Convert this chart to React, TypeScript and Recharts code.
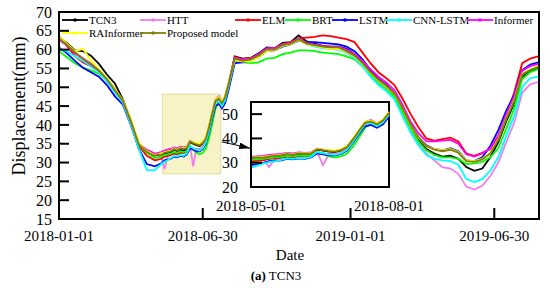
import { LineChart, Line, XAxis, YAxis, ReferenceArea, ReferenceLine } from "recharts";

const FONT = "'Liberation Serif', 'Times New Roman', serif";

// day index counted from 2018-01-01
const DAYS = [
  0, 10, 20, 30, 40, 50, 60, 70, 80, 90, 100, 110,
  120, 124, 128, 132, 136, 140, 144, 148, 152, 156, 160, 164, 168, 172, 176, 180, 184, 188, 192, 196, 200, 204, 208, 212,
  220, 230, 240, 250, 260, 270, 280, 290, 300, 310, 320, 330, 340, 350, 360,
  370, 380, 390, 400, 410, 420, 430, 440, 450, 460, 470, 480, 490, 500, 510, 520, 530, 540, 550, 560, 570, 580, 590, 600,
];

const MAIN_TICKS = [0, 180, 365, 545];
const MAIN_TICK_LABELS = ["2018-01-01", "2018-06-30", "2019-01-01", "2019-06-30"];
const Y_TICKS = [15, 20, 25, 30, 35, 40, 45, 50, 55, 60, 65, 70];
const INSET_TICKS = [120, 212];
const INSET_TICK_LABELS = ["2018-05-01", "2018-08-01"];
const INSET_Y_TICKS = [20, 30, 40, 50];

const TCN3 = [
  63.2, 61.8, 59.8, 59.6, 58.4, 56.2, 53.4, 51.0, 46.8, 41.0, 34.8, 32.8,
  31.4, 31.8, 31.8, 32.4, 32.6, 32.6, 33.4, 33.0, 33.4, 33.2, 33.6, 35.4, 35.0, 34.6, 34.4, 35.0, 36.2, 39.4, 43.0, 46.2, 46.8, 45.6, 47.2, 50.4,
  58.2, 57.6, 57.8, 59.0, 60.6, 60.4, 61.8, 62.0, 63.8, 62.2, 61.6, 61.0, 60.8, 60.8, 60.2,
  58.8, 56.6, 54.0, 51.8, 50.2, 48.0, 44.2, 39.8, 36.0, 33.6, 32.4, 31.6, 31.8, 31.0, 28.8, 27.8, 28.4, 31.4, 35.4, 41.0, 45.8, 52.8, 54.2, 55.0,
];
const HTT = [
  62.5, 61.0, 59.0, 57.8, 56.4, 54.6, 52.2, 49.0, 46.0, 40.6, 34.6, 32.8,
  31.6, 31.6, 31.8, 28.2, 31.6, 32.0, 32.6, 32.4, 32.8, 32.6, 33.0, 34.6, 29.0, 33.6, 33.6, 34.2, 35.8, 39.0, 42.8, 46.4, 47.2, 45.8, 47.0, 50.4,
  57.8, 57.2, 57.6, 58.6, 60.2, 60.2, 61.4, 61.8, 63.0, 61.6, 61.0, 60.6, 60.2, 60.0, 59.4,
  58.0, 56.0, 53.4, 51.2, 49.6, 47.4, 43.2, 38.6, 35.0, 32.4, 30.6, 28.8, 28.4, 27.0, 23.6, 22.8, 23.8, 26.4, 30.0, 35.4, 40.6, 48.6, 50.8, 51.4,
];
const ELM = [
  63.6, 61.0, 58.2, 56.6, 55.6, 54.5, 52.0, 49.2, 46.2, 40.8, 34.4, 31.8,
  30.6, 30.8, 31.0, 31.6, 31.8, 32.0, 32.4, 32.2, 32.6, 32.6, 32.8, 34.2, 33.8, 33.4, 33.0, 33.6, 35.4, 38.8, 42.6, 46.0, 46.6, 45.4, 46.8, 50.0,
  58.0, 57.4, 57.8, 58.6, 60.0, 60.4, 61.4, 62.0, 63.0, 63.2, 63.4, 63.8, 63.6, 63.2, 62.8,
  62.0, 59.2, 56.4, 54.0, 52.4, 50.6, 47.0, 43.0, 39.4, 36.4, 35.8, 36.2, 36.6, 35.6, 32.4, 31.8, 32.6, 33.6, 37.0, 42.6, 48.6, 56.4, 57.6, 58.2,
];
const BRT = [
  59.6, 58.0, 56.4, 55.2, 54.5, 53.6, 51.8, 48.8, 46.0, 40.6, 34.8, 32.6,
  31.2, 31.4, 31.6, 32.0, 32.2, 32.4, 32.8, 32.6, 33.0, 32.8, 33.0, 34.4, 33.6, 32.6, 32.2, 32.6, 33.8, 36.6, 40.4, 44.4, 46.0, 45.0, 46.4, 49.6,
  57.0, 56.6, 56.4, 56.6, 57.6, 57.8, 58.8, 59.2, 59.8, 59.8, 59.6, 59.2, 59.0, 58.8, 58.2,
  57.4, 55.6, 53.2, 51.0, 49.4, 47.4, 43.4, 39.2, 35.6, 33.2, 32.0, 31.4, 31.4, 31.0, 29.6, 29.8, 30.2, 31.4, 33.8, 39.0, 44.4, 52.2, 54.0, 54.8,
];
const LSTM = [
  60.6, 59.0, 57.0, 55.2, 54.0, 52.8, 50.6, 47.6, 45.4, 40.0, 33.6, 29.6,
  29.0, 29.4, 29.8, 30.6, 30.8, 31.0, 31.6, 31.4, 31.8, 31.6, 32.2, 33.8, 33.4, 33.0, 33.0, 33.6, 35.0, 38.2, 41.8, 45.0, 45.6, 44.4, 45.8, 49.0,
  56.4, 56.6, 57.0, 58.0, 59.6, 59.8, 60.8, 61.4, 62.4, 62.0, 62.0, 61.8, 61.6, 61.4, 60.8,
  59.6, 57.4, 54.6, 52.2, 50.6, 48.4, 44.4, 40.2, 36.6, 34.6, 33.6, 33.2, 33.8, 33.0, 30.6, 30.4, 31.4, 34.4, 38.6, 43.8, 48.0, 54.6, 56.0, 56.6,
];
const CNN_LSTM = [
  60.2, 59.6, 58.2, 57.0, 55.6, 54.0, 51.5, 48.6, 45.8, 40.2, 33.6, 28.0,
  28.0, 28.8, 29.6, 30.2, 30.6, 31.2, 31.8, 31.6, 32.0, 31.8, 32.4, 34.4, 33.8, 33.4, 33.2, 33.8, 35.4, 38.6, 42.4, 45.8, 46.4, 45.0, 46.6, 49.8,
  57.2, 57.0, 57.2, 58.2, 59.8, 60.0, 61.0, 61.6, 62.6, 61.4, 60.8, 60.4, 60.2, 60.0, 59.2,
  57.8, 55.6, 52.8, 50.6, 49.0, 46.8, 42.4, 38.0, 34.6, 32.0, 31.0, 30.6, 30.4, 29.4, 25.6, 24.8, 25.6, 27.8, 31.4, 37.0, 42.4, 50.0, 52.4, 52.8,
];
const INFORMER = [
  62.8, 61.2, 59.0, 57.5, 56.0, 54.4, 52.2, 49.2, 46.4, 41.0, 35.0, 33.4,
  32.4, 32.6, 32.8, 33.2, 33.4, 33.6, 34.0, 33.8, 34.2, 34.0, 34.2, 35.8, 35.4, 35.0, 34.8, 35.4, 36.6, 39.8, 43.4, 46.8, 47.6, 46.2, 47.6, 50.8,
  57.8, 57.4, 57.6, 58.8, 60.4, 60.4, 61.4, 61.8, 63.0, 61.8, 61.4, 61.0, 60.8, 60.8, 60.0,
  58.8, 57.0, 54.8, 52.8, 51.2, 49.2, 45.4, 41.0, 37.8, 35.6, 35.6, 35.8, 36.0, 35.0, 32.2, 31.6, 32.4, 33.8, 37.2, 42.8, 47.6, 54.4, 55.6, 56.2,
];
const RAINFORMER = [
  63.5, 61.6, 59.6, 60.2, 57.2, 54.8, 52.4, 49.6, 46.6, 41.5, 35.2, 33.0,
  32.0, 32.3, 32.4, 32.8, 33.0, 33.2, 33.8, 33.4, 34.0, 33.8, 34.0, 35.8, 35.4, 35.2, 35.0, 35.6, 36.8, 40.0, 43.6, 46.8, 47.4, 46.2, 47.8, 51.0,
  57.2, 56.8, 56.8, 58.0, 59.6, 59.8, 61.0, 61.4, 62.6, 61.4, 61.0, 60.6, 60.2, 60.2, 59.4,
  58.2, 56.2, 53.8, 51.8, 50.2, 48.2, 44.4, 40.0, 36.6, 34.4, 33.6, 33.2, 33.6, 32.8, 30.6, 30.4, 31.0, 32.6, 36.2, 41.8, 46.6, 53.6, 54.8, 55.6,
];
const PROPOSED = [
  63.0, 61.3, 59.3, 57.6, 56.2, 54.5, 52.2, 49.3, 46.4, 41.0, 34.8, 32.8,
  31.8, 32.2, 32.0, 32.6, 32.8, 33.0, 33.6, 33.2, 33.8, 33.6, 33.8, 35.6, 35.2, 34.8, 34.6, 35.2, 36.4, 39.6, 43.2, 46.4, 47.0, 45.8, 47.4, 50.6,
  57.6, 57.0, 57.4, 58.4, 60.0, 60.0, 61.2, 61.6, 62.8, 61.6, 61.2, 60.8, 60.6, 60.6, 59.6,
  58.4, 56.4, 54.0, 52.0, 50.4, 48.4, 44.6, 40.2, 36.8, 34.4, 33.4, 33.0, 33.4, 32.6, 30.4, 30.2, 30.8, 32.4, 36.0, 41.6, 46.4, 53.4, 54.6, 55.4,
];

const SERIES = [
  { key: "tcn3", name: "TCN3", color: "#000000", values: TCN3 },
  { key: "htt", name: "HTT", color: "#f07cf0", values: HTT },
  { key: "elm", name: "ELM", color: "#ff0000", values: ELM },
  { key: "brt", name: "BRT", color: "#00ff00", values: BRT },
  { key: "lstm", name: "LSTM", color: "#0000ff", values: LSTM },
  { key: "cnnlstm", name: "CNN-LSTM", color: "#00ffff", values: CNN_LSTM },
  { key: "informer", name: "Informer", color: "#ff00ff", values: INFORMER },
  { key: "rainformer", name: "RAInformer", color: "#ffff00", values: RAINFORMER },
  { key: "proposed", name: "Proposed model", color: "#808000", values: PROPOSED },
];

// legend slot for each series (left of the line sample, row centre)
const LEGEND_POS: Record<string, [number, number]> = {
  tcn3: [62, 20],
  htt: [140, 20],
  elm: [235, 20],
  brt: [285, 20],
  lstm: [332, 20],
  cnnlstm: [386, 20],
  informer: [467, 20],
  rainformer: [62, 33],
  proposed: [140, 33],
};

const rows = DAYS.map((day, i) => {
  const r: any = { day };
  SERIES.forEach((s) => (r[s.key] = s.values[i]));
  return r;
});
const insetRows = rows.filter((r) => r.day >= 120 && r.day <= 212);

const axisStyle = { stroke: "#000", strokeWidth: 2 };
const tickText = { fill: "#000", fontSize: 15, fontFamily: FONT };

function LegendItem({ name, color, left, top }: any) {
  return (
    <div
      style={{
        position: "absolute",
        left,
        top: top - 7,
        height: 14,
        display: "flex",
        alignItems: "center",
        whiteSpace: "nowrap",
        fontSize: 11,
        lineHeight: "14px",
      }}
    >
      <svg width={26} height={6} style={{ marginRight: 1 }}>
        <line x1={0} y1={3} x2={26} y2={3} stroke={color} strokeWidth={1.8} />
        <circle cx={13} cy={3} r={1.8} fill={color} />
      </svg>
      <span>{name}</span>
    </div>
  );
}

export default function App() {
  return (
    <div style={{ position: "absolute", left: 0, top: 0, width: 550, height: 288, fontFamily: FONT, background: "#fff" }}>
      <LineChart width={550} height={288} data={rows} margin={{ top: 12, right: 11, bottom: 39, left: 9 }}>
        <defs>
          <marker id="arrowHead" viewBox="0 0 10 6" refX={10} refY={3} markerWidth={11} markerHeight={6.6} markerUnits="userSpaceOnUse" orient="auto">
            <path d="M0,0 L10,3 L0,6 z" fill="#000" />
          </marker>
        </defs>
        <ReferenceArea x1={129.4} x2={202.6} y1={27} y2={48.2} fill="#f8f3c6" fillOpacity={1} stroke="#e2dba4" />
        <XAxis
          dataKey="day"
          type="number"
          domain={[0, 601]}
          ticks={MAIN_TICKS}
          interval={0}
          tickFormatter={(v) => MAIN_TICK_LABELS[MAIN_TICKS.indexOf(v)]}
          tickSize={-11}
          tickMargin={22}
          height={30}
          axisLine={axisStyle}
          tickLine={axisStyle}
          tick={tickText}
        />
        <YAxis
          type="number"
          domain={[15, 70]}
          ticks={Y_TICKS}
          interval={0}
          width={50}
          tickSize={-10}
          tickMargin={17}
          axisLine={axisStyle}
          tickLine={axisStyle}
          tick={{ ...tickText, fontSize: 16 }}
        />
        {SERIES.map((s) => (
          <Line
            key={s.key}
            dataKey={s.key}
            name={s.name}
            stroke={s.color}
            strokeWidth={1.8}
            dot={false}
            isAnimationActive={false}
          />
        ))}
        <ReferenceLine
          segment={[{ x: 203.9, y: 35.5 }, { x: 239.4, y: 33.8 }]}
          stroke="#000"
          strokeWidth={1}
          markerEnd="url(#arrowHead)"
        />
        <ReferenceArea x1={0} x2={601} y1={15} y2={70} fill="none" stroke="#000" strokeWidth={2} />
      </LineChart>

      {/* zoomed inset */}
      <div style={{ position: "absolute", left: 205, top: 97 }}>
        <LineChart width={230} height={120} data={insetRows} margin={{ top: 5, right: 46, bottom: 0, left: 0 }}>
          <ReferenceArea x1={120} x2={212} y1={20} y2={55} fill="#fff" fillOpacity={1} />
          <XAxis
            dataKey="day"
            type="number"
            domain={[120, 212]}
            ticks={INSET_TICKS}
            interval={0}
            tickFormatter={(v) => INSET_TICK_LABELS[INSET_TICKS.indexOf(v)]}
            tickSize={0}
            tickMargin={13}
            tickLine={false}
            height={30}
            axisLine={axisStyle}
            tick={tickText}
          />
          <YAxis
            type="number"
            domain={[20, 55]}
            ticks={INSET_Y_TICKS}
            interval={0}
            width={46}
            tickSize={-11}
            tickMargin={24}
            axisLine={axisStyle}
            tickLine={axisStyle}
            tick={{ ...tickText, fontSize: 16 }}
          />
          {SERIES.map((s) => (
            <Line
              key={s.key}
              dataKey={s.key}
              stroke={s.color}
              strokeWidth={1.8}
              dot={false}
              isAnimationActive={false}
            />
          ))}
          <ReferenceArea x1={120} x2={212} y1={20} y2={55} fill="none" stroke="#000" strokeWidth={2} />
        </LineChart>
      </div>

      {SERIES.map((s) => (
        <LegendItem key={s.key} name={s.name} color={s.color} left={LEGEND_POS[s.key][0]} top={LEGEND_POS[s.key][1]} />
      ))}

      <div
        style={{
          position: "absolute",
          left: 19,
          top: 106,
          transform: "translate(-50%, -50%) rotate(-90deg)",
          fontSize: 18,
          whiteSpace: "nowrap",
          lineHeight: "20px",
        }}
      >
        Displacement(mm)
      </div>
      <div style={{ position: "absolute", left: 290, top: 255, transform: "translate(-50%, -50%)", fontSize: 15, lineHeight: "18px" }}>
        Date
      </div>
      <div
        style={{ position: "absolute", left: 276, top: 276, transform: "translate(-50%, -50%)", fontSize: 13, lineHeight: "16px", whiteSpace: "nowrap" }}
      >
        <b>(a)</b> TCN3
      </div>
    </div>
  );
}
